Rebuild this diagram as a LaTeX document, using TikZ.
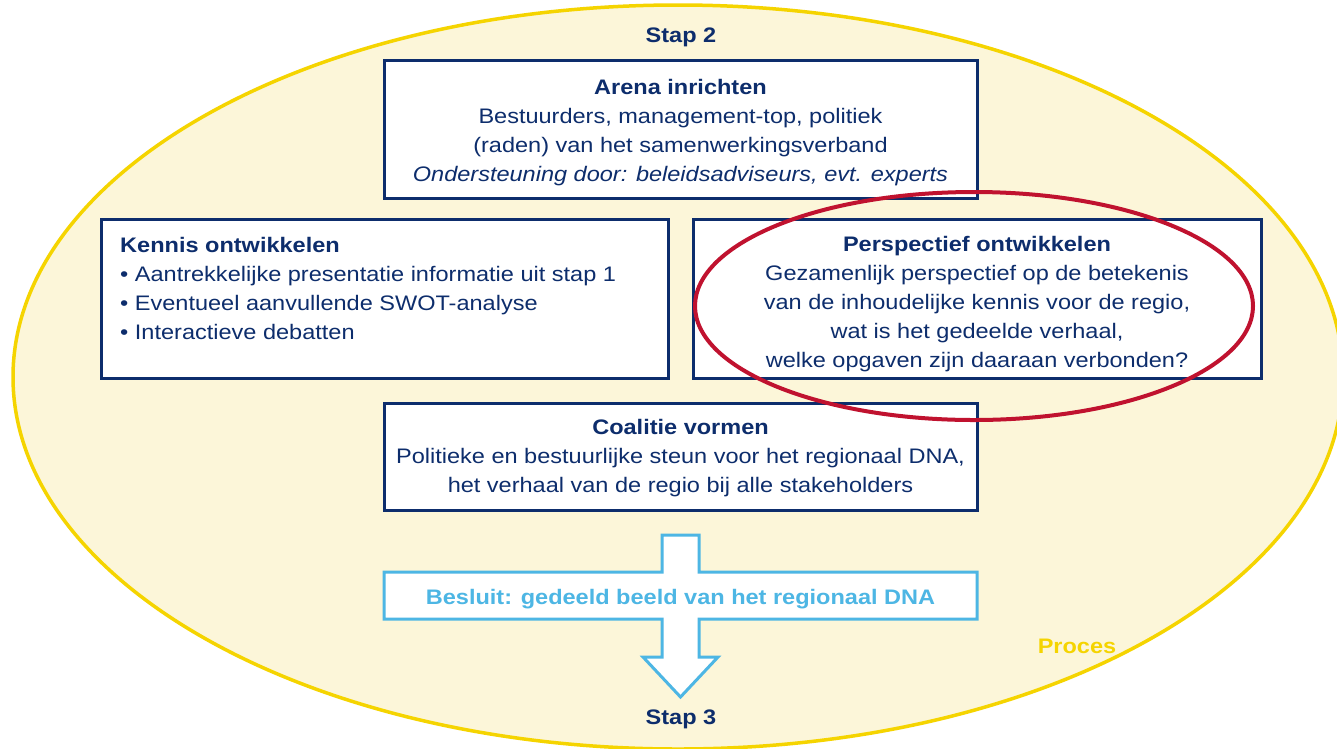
\documentclass[tikz,border=0pt]{standalone}
\usepackage{fontspec}
\setmainfont{Liberation Sans}[FakeStretch=1.12]
\definecolor{navy}{HTML}{0D2D6C}
\definecolor{skyblue}{HTML}{4DB6E4}
\definecolor{gold}{HTML}{F5D400}
\definecolor{cream}{HTML}{FCF6D9}
\definecolor{crimson}{HTML}{C0122F}
\begin{document}
\begin{tikzpicture}[x=1pt, y=-1pt,
  txt/.style={font=\fontsize{21}{29}\selectfont, text=navy, inner sep=0pt},
  box/.style={draw=navy, line width=3pt, fill=white, inner sep=0pt},
  boxtext/.style={txt, align=center},
  steplabel/.style={font=\fontsize{21}{29}\selectfont\bfseries, text=navy, inner sep=0pt}
]
\useasboundingbox (0,0) rectangle (1337,748);
\fill[white] (0,0) rectangle (1337,748);

% process area
\begin{scope}
  \clip (0,0) rectangle (1337,748);
  \draw[gold, fill=cream, line width=3.5pt] (678,377) ellipse [x radius=665, y radius=372];
\end{scope}

\node[steplabel] (stap2) at (681,37) {Stap 2};

% arena
\node[box, minimum width=593pt, minimum height=138pt] (arena) at (680.5,129) {};
\node[boxtext, yshift=-4pt] (arenatxt) at (arena)
  {\textbf{Arena inrichten}\\
   Bestuurders, management-top, politiek\\
   (raden) van het samenwerkingsverband\\
   \textit{Ondersteuning door: beleidsadviseurs, evt. experts}};

% knowledge
\node[box, minimum width=567pt, minimum height=159pt] (kennis) at (384.5,298.5) {};
\node[txt, anchor=north west, align=left] (kennistxt) at (120,237)
  {\textbf{Kennis ontwikkelen}\\
   \textbullet{} Aantrekkelijke presentatie informatie uit stap 1\\
   \textbullet{} Eventueel aanvullende SWOT-analyse\\
   \textbullet{} Interactieve debatten};

% perspective
\node[box, minimum width=568pt, minimum height=159pt] (persp) at (977,298.5) {};
\node[boxtext, yshift=-6pt] (persptxt) at (persp)
  {\textbf{Perspectief ontwikkelen}\\
   Gezamenlijk perspectief op de betekenis\\
   van de inhoudelijke kennis voor de regio,\\
   wat is het gedeelde verhaal,\\
   welke opgaven zijn daaraan verbonden?};

% coalition
\node[box, minimum width=593pt, minimum height=107pt] (coalitie) at (680.5,456.5) {};
\node[boxtext, yshift=-2pt] (coalitietxt) at (coalitie)
  {\textbf{Coalitie vormen}\\
   Politieke en bestuurlijke steun voor het regionaal DNA,\\
   het verhaal van de regio bij alle stakeholders};

% decision bar with the arrow running through it
\draw[skyblue, fill=white, line width=3pt, line join=miter]
  (662,535) -- (699,535) -- (699,572) -- (977,572) -- (977,619) -- (699,619)
  -- (699,657) -- (718,657) -- (680.5,697) -- (643,657) -- (662,657)
  -- (662,619) -- (384,619) -- (384,572) -- (662,572) -- cycle;
\node[font=\fontsize{21}{29}\selectfont\bfseries, text=skyblue, inner sep=0pt] (besluit) at (680.5,599)
  {Besluit: gedeeld beeld van het regionaal DNA};

\node[steplabel] (stap3) at (681,719) {Stap 3};
\node[font=\fontsize{21}{29}\selectfont\bfseries, text=gold, inner sep=0pt] (proces) at (1077,646) {Proces};

% highlight around the perspective box
\draw[crimson, line width=4pt] (974,306) ellipse [x radius=279, y radius=114];
\end{tikzpicture}
\end{document}
